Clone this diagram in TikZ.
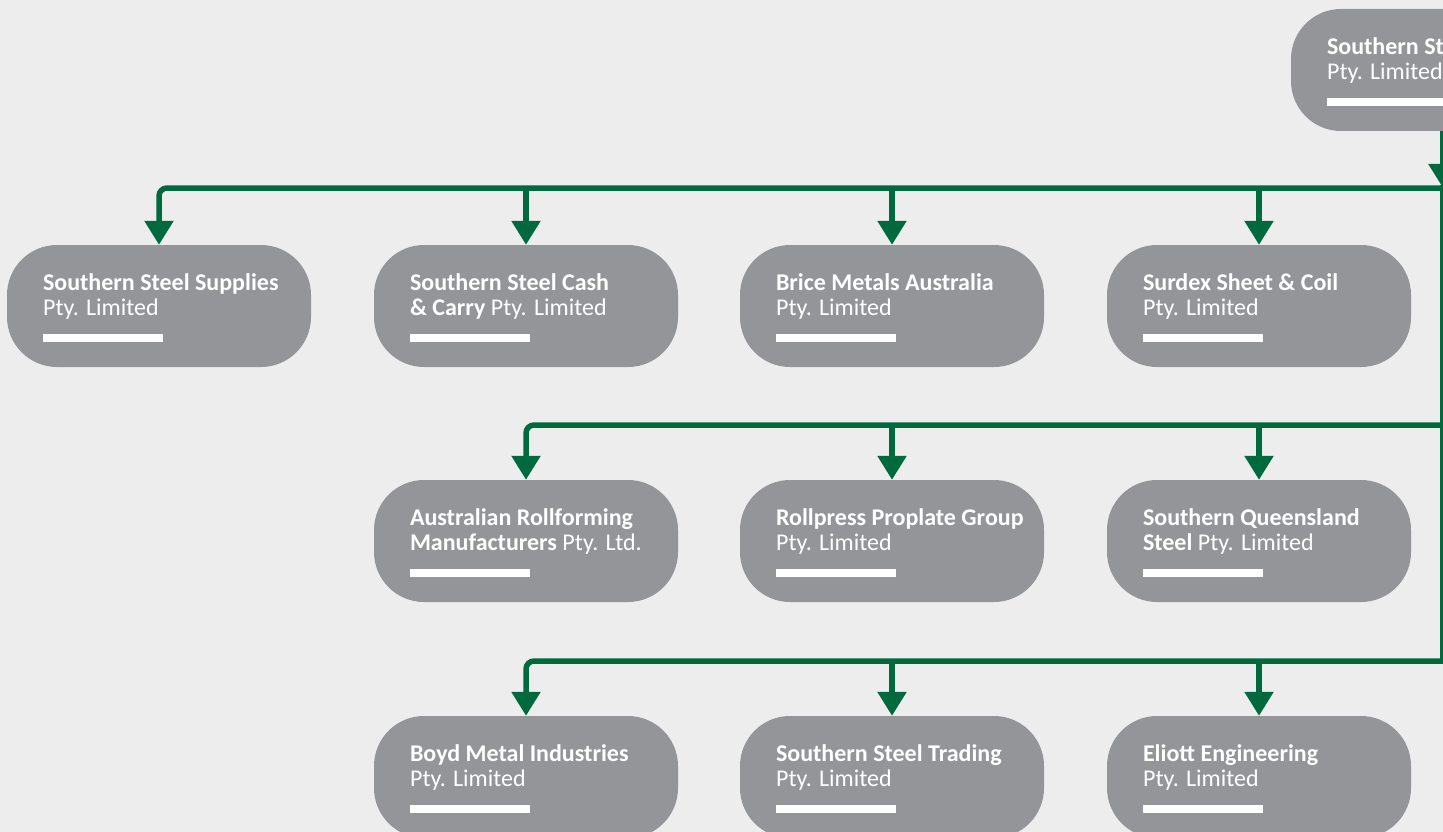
\documentclass[tikz,border=0pt]{standalone}
\usepackage{fontspec}
\setmainfont{Carlito}
\usetikzlibrary{positioning,arrows.meta}
\usepackage{xcolor}
\definecolor{sheet}{RGB}{237,237,237}
\definecolor{steelgrey}{RGB}{147,149,152}
\definecolor{steelgreen}{RGB}{0,106,62}

\begin{document}
\begin{tikzpicture}[
		x=1pt, y=-1pt,
		font=\fontsize{24}{25}\selectfont,
		% Define styles for the company boxes and the links
		unit/.style={rectangle, rounded corners=50pt, fill=steelgrey, minimum width=304pt, minimum height=122pt, inner sep=0pt},
		tag/.style={align=left, inner sep=0pt, text=white, yshift=-2pt},
		wire/.style={line width=5.5pt, color=steelgreen},
		arrow/.style={wire, -{Triangle[length=24pt, width=28pt]}}
		]
		
		\useasboundingbox (0,0) rectangle (1443,832);
		\clip (0,0) rectangle (1443,832);
		\fill[sheet] (0,0) rectangle (1443,832);
		
		% --- Parent ---
		\node (group) [unit] at (1443,70) {};
		\node (groupt) [tag, right=36pt of group.west] {{\bfseries Southern Steel}\\Pty. Limited\\[2pt]\rule{120pt}{8pt}};
		
		% --- First row ---
		\node (supplies) [unit] at (159,306) {};
		\node (suppliest) [tag, right=36pt of supplies.west] {{\bfseries Southern Steel Supplies}\\Pty. Limited\\[2pt]\rule{120pt}{8pt}};
		
		\node (cash) [unit] at (526,306) {};
		\node (casht) [tag, right=36pt of cash.west] {{\bfseries Southern Steel Cash}\\{\bfseries \& Carry} Pty. Limited\\[2pt]\rule{120pt}{8pt}};
		
		\node (brice) [unit] at (892,306) {};
		\node (bricet) [tag, right=36pt of brice.west] {{\bfseries Brice Metals Australia}\\Pty. Limited\\[2pt]\rule{120pt}{8pt}};
		
		\node (surdex) [unit] at (1259,306) {};
		\node (surdext) [tag, right=36pt of surdex.west] {{\bfseries Surdex Sheet \& Coil}\\Pty. Limited\\[2pt]\rule{120pt}{8pt}};
		
		% --- Second row ---
		\node (rollforming) [unit] at (526,541) {};
		\node (rollformingt) [tag, right=36pt of rollforming.west] {{\bfseries Australian Rollforming}\\{\bfseries Manufacturers} Pty. Ltd.\\[2pt]\rule{120pt}{8pt}};
		
		\node (rollpress) [unit] at (892,541) {};
		\node (rollpresst) [tag, right=36pt of rollpress.west] {{\bfseries Rollpress Proplate Group}\\Pty. Limited\\[2pt]\rule{120pt}{8pt}};
		
		\node (queensland) [unit] at (1259,541) {};
		\node (queenslandt) [tag, right=36pt of queensland.west] {{\bfseries Southern Queensland}\\{\bfseries Steel} Pty. Limited\\[2pt]\rule{120pt}{8pt}};
		
		% --- Third row ---
		\node (boyd) [unit] at (526,777) {};
		\node (boydt) [tag, right=36pt of boyd.west] {{\bfseries Boyd Metal Industries}\\Pty. Limited\\[2pt]\rule{120pt}{8pt}};
		
		\node (trading) [unit] at (892,777) {};
		\node (tradingt) [tag, right=36pt of trading.west] {{\bfseries Southern Steel Trading}\\Pty. Limited\\[2pt]\rule{120pt}{8pt}};
		
		\node (eliott) [unit] at (1259,777) {};
		\node (eliottt) [tag, right=36pt of eliott.west] {{\bfseries Eliott Engineering}\\Pty. Limited\\[2pt]\rule{120pt}{8pt}};
		
		% --- Links ---
		\coordinate (bus1) at (1443,188);
		\coordinate (bus2) at (1443,425);
		\coordinate (bus3) at (1443,661);
		
		\draw[wire, line cap=rect] (bus1) -- (bus3);
		\draw[arrow] (group) -- (bus1);
		
		\draw[arrow, rounded corners=8pt] (bus1) -| (supplies);
		\draw[arrow] (cash |- bus1) -- (cash);
		\draw[arrow] (brice |- bus1) -- (brice);
		\draw[arrow] (surdex |- bus1) -- (surdex);
		
		\draw[arrow, rounded corners=8pt] (bus2) -| (rollforming);
		\draw[arrow] (rollpress |- bus2) -- (rollpress);
		\draw[arrow] (queensland |- bus2) -- (queensland);
		
		\draw[arrow, rounded corners=8pt] (bus3) -| (boyd);
		\draw[arrow] (trading |- bus3) -- (trading);
		\draw[arrow] (eliott |- bus3) -- (eliott);
		
	\end{tikzpicture}
\end{document}
